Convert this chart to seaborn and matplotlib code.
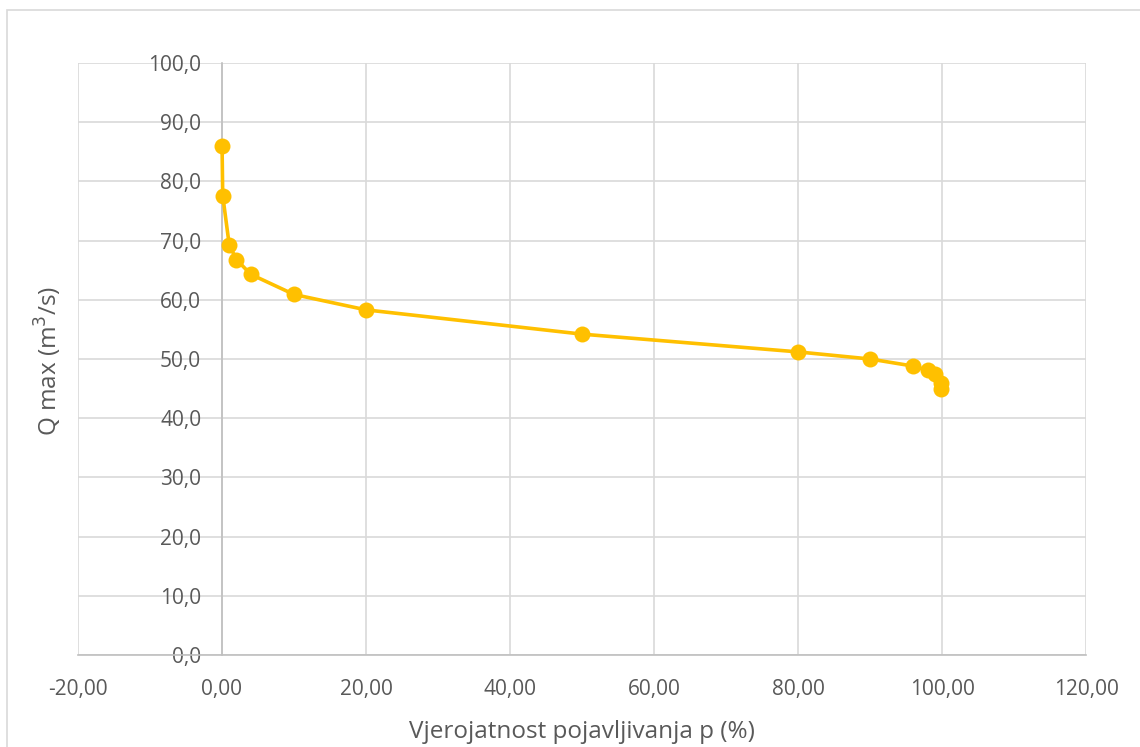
import matplotlib
matplotlib.use("Agg")
import matplotlib.pyplot as plt
import seaborn as sns
import pandas as pd
from matplotlib.ticker import FuncFormatter

# probability of occurrence p (%) and Q max (m3/s)
p_values = [0.01, 0.1, 1, 2, 4, 10, 20, 50, 80, 90, 96, 98, 99, 99.8, 99.9]
q_values = [85.9, 77.6, 69.3, 66.8, 64.3, 60.9, 58.3, 54.2, 51.2, 50.0, 48.8, 48.1, 47.5, 45.9, 45.0]

x_ticks = [-20, 0, 20, 40, 60, 80, 100, 120]
y_ticks = [0, 10, 20, 30, 40, 50, 60, 70, 80, 90, 100]

df = pd.DataFrame({"p": p_values, "Q": q_values})

sns.set_style("white")
plt.rcParams["font.family"] = ["Open Sans", "DejaVu Sans"]

fig = plt.figure(figsize=(11.4, 7.47), dpi=100)
ax = fig.add_axes([78 / 1140, 1 - 655 / 747, 1008 / 1140, 592 / 747])

# outer chart border
fig.patches.append(plt.Rectangle((7 / 1140, -0.01), 1.1, 1 - 10 / 747 + 0.01,
                                 transform=fig.transFigure, fill=False,
                                 edgecolor="#D9D9D9", linewidth=1.2))

sns.lineplot(data=df, x="p", y="Q", ax=ax, sort=False, color="#FFC000",
             linewidth=2.6, marker="o", markersize=11.5, markeredgewidth=0,
             zorder=5)

ax.set_xlim(-20, 120)
ax.set_ylim(0, 100)
ax.set_xticks(x_ticks)
ax.set_yticks(y_ticks)
ax.xaxis.set_major_formatter(FuncFormatter(lambda v, _: f"{v:.2f}".replace(".", ",")))
ax.yaxis.set_major_formatter(FuncFormatter(lambda v, _: f"{v:.1f}".replace(".", ",")))

ax.grid(True, color="#D9D9D9", linewidth=1.2)
ax.set_axisbelow(True)
for s in ["top", "right"]:
    ax.spines[s].set_visible(False)
ax.spines["left"].set_position(("data", 0))
ax.spines["left"].set_color("#BFBFBF")
ax.spines["bottom"].set_color("#BFBFBF")
ax.spines["left"].set_linewidth(1.2)
ax.spines["bottom"].set_linewidth(1.2)

ax.tick_params(axis="both", length=0, labelsize=15, labelcolor="#595959")
ax.tick_params(axis="x", pad=17)
ax.tick_params(axis="y", pad=15)

ax.set_xlabel("Vjerojatnost pojavljivanja p (%)", fontsize=17.5, color="#595959", labelpad=15)
ax.set_ylabel("")
fig.text(48 / 1140, 1 - 361 / 747, "Q max (m$^3$/s)", rotation=90, fontsize=17.5,
         color="#595959", ha="center", va="center")

fig.savefig("out.png", dpi=100, facecolor="white")
